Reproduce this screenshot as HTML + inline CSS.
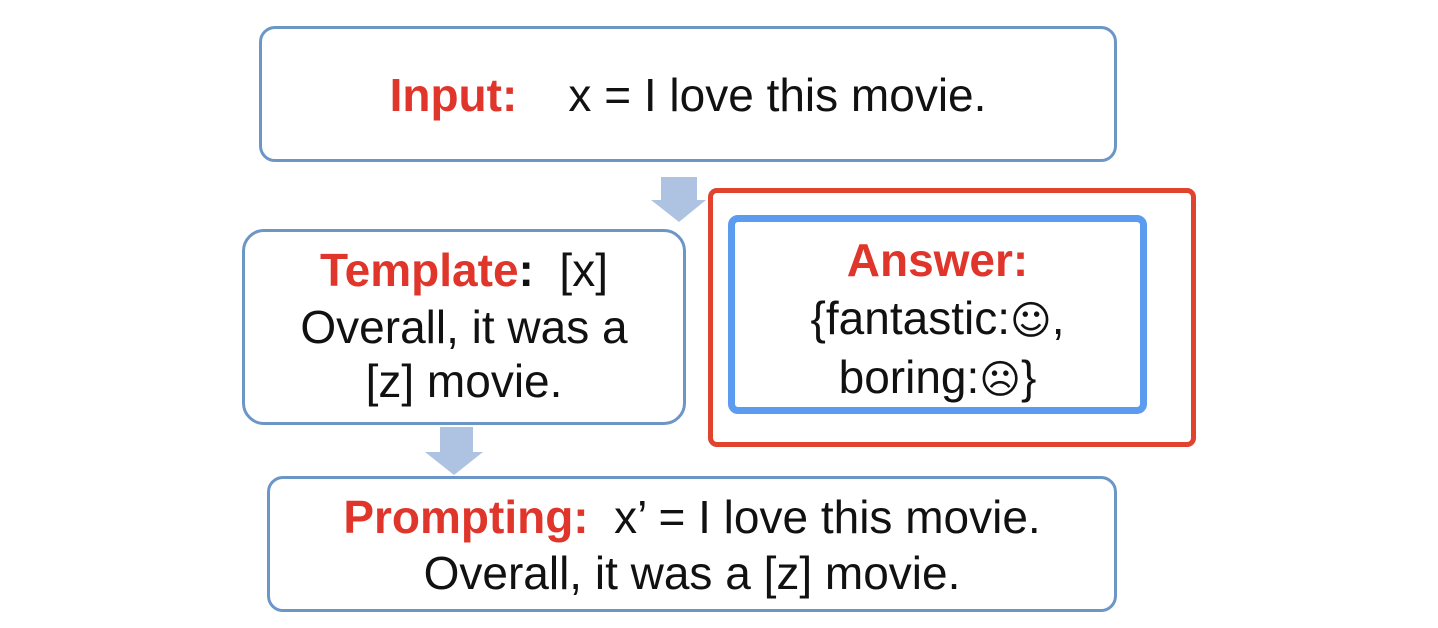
<!DOCTYPE html>
<html><head><meta charset="utf-8"><style>
html,body{margin:0;padding:0;background:#fff;}
body{width:1438px;height:628px;position:relative;overflow:hidden;font-family:"Liberation Sans","DejaVu Sans",sans-serif;color:#111;}
.box{position:absolute;box-sizing:border-box;border:3px solid #6c96c6;border-radius:16px;background:#fff;}
.t{position:absolute;white-space:nowrap;font-size:46px;line-height:1;text-align:center;}
.r{color:#e0352b;font-weight:bold;}
.e{font-family:"DejaVu Sans",sans-serif;font-size:40px;}
</style></head><body>
<div class="box" style="left:259px;top:26px;width:858px;height:136px;"></div>
<div class="t" style="left:259px;width:858px;top:72px;"><span class="r">Input:</span>&nbsp;&nbsp;&nbsp; x = I love this movie.</div>

<svg style="position:absolute;left:0;top:0" width="1438" height="628">
<polygon points="661,177 697,177 697,200 706,200 679,222 651,200 661,200" fill="#aec3e2"/>
<polygon points="440,427 473,427 473,452 483,452 454,475 425,452 440,452" fill="#aec3e2"/>
</svg>

<div class="box" style="left:242px;top:229px;width:444px;height:196px;border-radius:22px;"></div>
<div class="t" style="left:242px;width:444px;top:247px;"><span class="r">Template</span><b>:</b>&nbsp; [x]</div>
<div class="t" style="left:242px;width:444px;top:304px;">Overall, it was a</div>
<div class="t" style="left:242px;width:444px;top:358px;">[z] movie.</div>

<div class="box" style="left:708px;top:188px;width:488px;height:259px;border:5px solid #e0442f;border-radius:9px;"></div>
<div class="box" style="left:728px;top:215px;width:419px;height:199px;border:7px solid #5b9cf0;border-radius:10px;"></div>
<div class="t" style="left:728px;width:419px;top:237px;"><span class="r">Answer:</span></div>
<div class="t" style="left:728px;width:419px;top:295px;">{fantastic:<span class="e">☺</span>,</div>
<div class="t" style="left:728px;width:419px;top:354px;">boring:<span class="e">☹</span>}</div>

<div class="box" style="left:267px;top:476px;width:850px;height:136px;"></div>
<div class="t" style="left:267px;width:850px;top:494px;"><span class="r">Prompting:</span>&nbsp; x’ = I love this movie.</div>
<div class="t" style="left:267px;width:850px;top:550px;">Overall, it was a [z] movie.</div>
</body></html>
